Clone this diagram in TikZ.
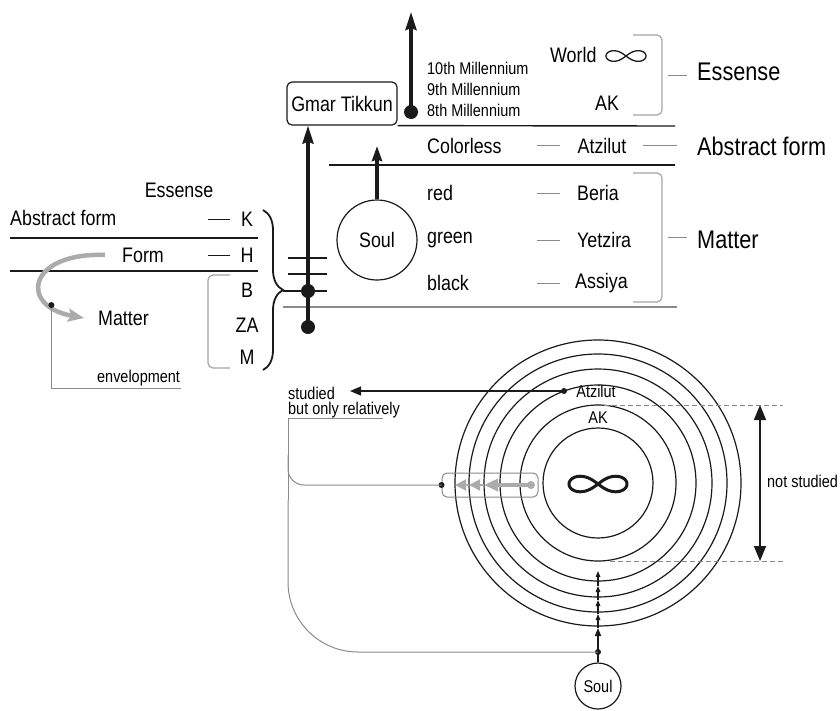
\documentclass[tikz,border=0pt]{standalone}
\usepackage{fontspec}
\setmainfont{Liberation Sans}[FakeStretch=0.85]
\usetikzlibrary{positioning,arrows.meta,decorations.pathreplacing,calc}
\definecolor{ink}{HTML}{1A1A1A}
\definecolor{lineGray}{HTML}{8A8A8A}
\definecolor{paleGray}{HTML}{A5A5A5}
\definecolor{arrowGray}{HTML}{ABABAB}
\tikzset{
  bigtxt/.style={font=\fontsize{25.5}{28}\selectfont, inner sep=0pt},
  midtxt/.style={font=\fontsize{21}{24}\selectfont, inner sep=0pt},
  smalltxt/.style={font=\fontsize{17}{20}\selectfont, inner sep=0pt},
  hline/.style={draw=ink, line width=1.6pt},
  ringline/.style={draw=ink, line width=1.2pt},
  shortrule/.style={draw=lineGray, line width=1pt},
  graybracket/.style={draw=paleGray, line width=1.2pt, rounded corners=5pt},
  graylink/.style={draw=lineGray, line width=1pt},
  bigdot/.style={circle, fill=ink, inner sep=0pt, minimum size=14pt},
  smalldot/.style={circle, fill=ink, inner sep=0pt, minimum size=6pt},
  soulnode/.style={circle, draw=ink, line width=1.2pt, inner sep=0pt},
  mainflow/.style={-{Stealth[length=18pt,width=11pt,inset=2pt]}, line width=3.5pt, draw=ink},
  soulflow/.style={-{Stealth[length=15pt,width=10pt,inset=1.5pt]}, line width=3.4pt, draw=ink},
  thinflow/.style={-{Triangle[length=11pt,width=9pt]}, line width=1.2pt, draw=ink},
  spanflow/.style={{Triangle[length=15pt,width=12pt]}-{Triangle[length=15pt,width=12pt]}, line width=1.6pt, draw=ink},
  stepflow/.style={-{Triangle[length=8pt,width=6pt]}, line width=1.6pt, draw=ink},
  tinyflow/.style={-{Triangle[length=6pt,width=4.5pt]}, line width=1.3pt, draw=ink},
  grayflow/.style={-{Triangle[length=14pt,width=12pt]}, line width=4pt, draw=arrowGray},
  graycurve/.style={-{Stealth[length=16pt,width=13pt,inset=3pt]}, line width=4.5pt, draw=arrowGray},
  limitline/.style={draw=lineGray, line width=1pt, dash pattern=on 5pt off 3pt}
}

\begin{document}
\begin{tikzpicture}[x=1pt, y=-1pt]
\fill[white] (0,0) rectangle (840,710);
\useasboundingbox (0,0) rectangle (840,710);

% left scheme: K H B ZA M
\node[midtxt] (essL) at (179,190) {Essense};
\node[midtxt, anchor=west] (absL) at (10,218) {Abstract form};
\node[midtxt] (formL) at (143,255) {Form};
\node[midtxt, anchor=west] (matL) at (98,318) {Matter};
\node[smalltxt, anchor=west] (envL) at (97,378) {envelopment};
\foreach \nm/\txt/\yy in {kL/K/219, hL/H/255, bL/B/290, zaL/ZA/325, mL/M/357}
  \node[midtxt] (\nm) at (247,\yy) {\txt};
\draw[hline] (10,238) -- (258,238);
\draw[hline] (10,271) -- (258,271);
\draw[shortrule, draw=ink] ([xshift=-39pt]kL.center) -- ([xshift=-17pt]kL.center);
\draw[shortrule, draw=ink] ([xshift=-39pt]hL.center) -- ([xshift=-17pt]hL.center);
\draw[graybracket] (230,275) -- (208,275) -- (208,368) -- (230,368);
\draw[graycurve] (105,255) .. controls (28,252) and (18,306) .. (84,318)
  coordinate[pos=0.78] (envdot);
\coordinate (envend) at (181,388);
\draw[graylink] (envdot) |- (envend);
\node[smalldot] at (envdot) {};
\draw[line width=1.8pt, draw=ink, decorate, decoration={brace, amplitude=20pt}]
  (263,210) -- (263,370);
\coordinate (braceTip) at (283,291);

% levels beside the brace
\draw[draw=ink, line width=1.2pt] (288,258) -- (327,258);
\draw[draw=ink, line width=1.2pt] (288,274) -- (327,274);
\draw[draw=ink, line width=1.2pt] (braceTip) -- (327,291);
\draw[draw=lineGray, line width=1.8pt] (283,307) -- (677,307);

% top right table
\node[draw=ink, line width=1.2pt, rounded corners=5pt, minimum width=110pt,
      minimum height=43pt, midtxt] (gmar) at (342,103.5) {Gmar Tikkun};
\node[bigdot] (jdot) at (308,291) {};
\node[bigdot] (rootdot) at (308,327) {};
\draw[mainflow] (rootdot.center) -- (rootdot |- gmar.south);
\node[bigdot] (mildot) at (411,112) {};
\coordinate (miltip) at (411,12);
\draw[mainflow] (mildot.center) -- (miltip);
\node[smalltxt, anchor=west] (m10) at (427,68) {10th Millennium};
\node[smalltxt, anchor=west] (m9) at (427,89) {9th Millennium};
\node[smalltxt, anchor=west] (m8) at (427,110) {8th Millennium};
\node[midtxt, anchor=west] (world) at (550,55) {World};
\draw[draw=ink, line width=1.3pt] plot[domain=0:360, samples=73, smooth]
  ({626+20*cos(\x)/(1+sin(\x)^2)}, {56+15*sin(\x)*cos(\x)/(1+sin(\x)^2)});
\node[midtxt] (akT) at (607,103) {AK};
\draw[graybracket] (633,35) -- (662,35) -- (662,115) -- (633,115);
\draw[shortrule] (668,75) -- (687,75);
\node[bigtxt, anchor=west] (essR) at (697,72) {Essense};
\draw[hline, line width=1.4pt] (gmar.south east) -- (675,126);

\node[midtxt, anchor=west] (colorless) at (427,146) {Colorless};
\node[midtxt] (atzR) at (602,146) {Atzilut};
\draw[shortrule] (643,145) -- (677,145);
\node[bigtxt, anchor=west] (absR) at (697,146) {Abstract form};
\draw[hline, line width=1.4pt] (329,165) -- (675,165);

\node[midtxt, anchor=west] (red) at (427,193) {red};
\node[midtxt, anchor=west] (green) at (427,240) {green};
\node[midtxt, anchor=west] (black) at (427,283) {black};
\node[midtxt, anchor=west] (beria) at (577,193) {Beria};
\node[midtxt, anchor=west] (yetz) at (577,240) {Yetzira};
\node[midtxt, anchor=west] (assiya) at (575,283) {Assiya};
\foreach \yy in {145,193,240,283}
  \draw[shortrule] (537,\yy) -- (560,\yy);
\draw[graybracket] (633,173) -- (662,173) -- (662,302) -- (633,302);
\draw[shortrule] (668,237) -- (687,237);
\node[bigtxt, anchor=west] (matR) at (697,240) {Matter};

\node[soulnode, minimum size=80pt, midtxt] (soulT) at (377,240) {Soul};
\coordinate (soultip) at (377,146);
\draw[soulflow] (soulT.north) -- (soultip);

% worlds as rings
\coordinate (ctr) at (598,483);
\foreach \r in {55,78,98,114,129,143}
  \draw[ringline] (ctr) circle (\r pt);
\draw[draw=ink, line width=3pt] plot[domain=0:360, samples=73, smooth]
  ({598+29*cos(\x)/(1+sin(\x)^2)}, {484+22*sin(\x)*cos(\x)/(1+sin(\x)^2)});
\node[smalldot] (atzdot) at (564,391) {};
\node[smalltxt, right=9pt of atzdot] (atzB) {Atzilut};
\node[smalltxt] (akB) at (598,418) {AK};
\node[smalltxt, anchor=west] (stud) at (288,393) {studied};
\node[smalltxt, anchor=west] (relat) at (288,410) {but only relatively};
\coordinate (studtip) at (350,391);
\draw[thinflow] (atzdot.center) -- (studtip);

\draw[limitline] (604,405) -- (783,405);
\draw[limitline] (610,561) -- (783,561);
\draw[spanflow] (760,405) -- (760,561);
\node[smalltxt, anchor=west] (notstud) at (767,481) {not studied};

\node[draw=lineGray, line width=1pt, rounded corners=5pt, minimum width=96pt,
      minimum height=24pt, inner sep=0pt] (gbox) at (490,485) {};
\node[smalldot] (boxdot) at (gbox.west) {};
\node[circle, fill=arrowGray, inner sep=0pt, minimum size=8pt] (gdot) at (531,485) {};
\draw[grayflow] (gdot.center) -- (484,485);
\draw[grayflow, line width=2pt, -{Triangle[length=11pt,width=11pt]}] (484,485) -- (469,485);
\draw[grayflow, line width=2pt, -{Triangle[length=11pt,width=11pt]}] (469,485) -- (455,485);

% bottom soul and its path
\node[soulnode, minimum size=46pt, smalltxt] (soulB) at (598,686) {Soul};
\node[smalldot] (sdot) at (598,652) {};
\draw[draw=ink, line width=1.6pt] (soulB.north) -- (sdot.center);
\draw[stepflow] (sdot.center) -- (598,628);
\foreach \ya/\yb in {628/614, 614/600, 600/586, 586/571}
  \draw[tinyflow] (598,\ya) -- (598,\yb);

\draw[graylink] (383,418) -- (288,418) -- (288,500);
\draw[graylink, rounded corners=70pt] (288,500) -- (288,652) -- (sdot.center);
\draw[graylink, rounded corners=16pt] (288,455) -- (288,485) -- (boxdot.center);
\end{tikzpicture}
\end{document}
